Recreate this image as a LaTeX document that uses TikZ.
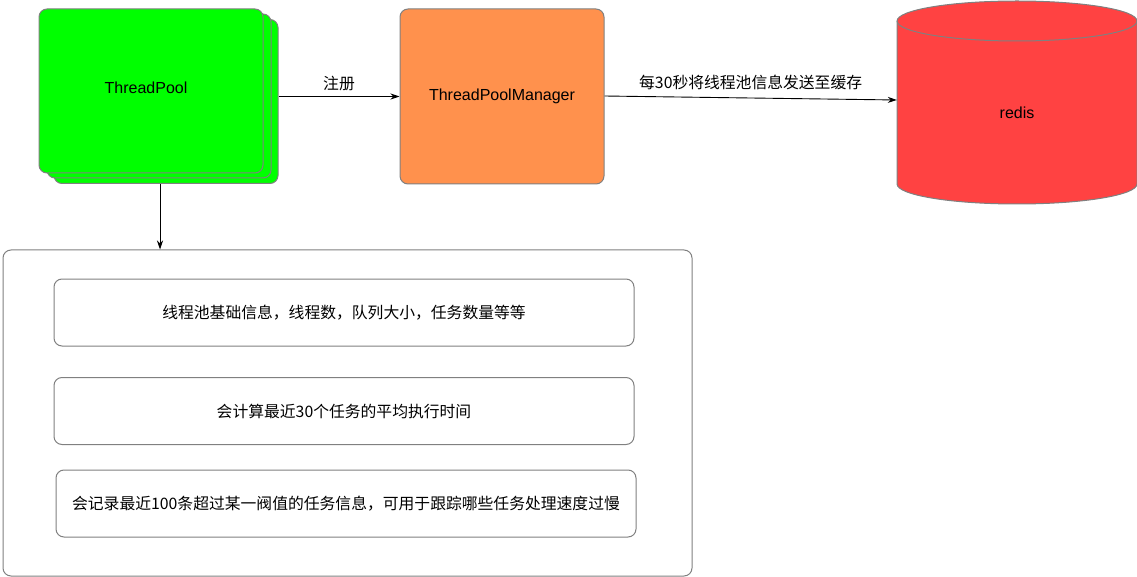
\documentclass[tikz,border=0pt]{standalone}
\usepackage{fontspec}
\setmainfont{Liberation Sans}
\newfontfamily\cjk{Noto Sans CJK SC}
\usetikzlibrary{positioning, arrows.meta}

\definecolor{poolgreen}{RGB}{0,255,0}
\definecolor{mgrorange}{RGB}{255,145,77}
\definecolor{redisred}{RGB}{255,66,66}
\definecolor{edgegray}{RGB}{128,128,128}

\begin{document}
\begin{tikzpicture}[x=1pt, y=1pt,
        box/.style={draw=edgegray, line width=1pt, rounded corners=8pt, inner sep=0pt},
        poolbox/.style={box, fill=poolgreen, minimum width=224pt, minimum height=164pt},
        infobox/.style={box, minimum width=580pt, minimum height=67pt, font=\cjk\fontsize{15.8}{19}\selectfont},
        arr/.style={line width=0.9pt, -{Stealth[length=9pt, width=6pt]}},
        lbl/.style={font=\cjk\fontsize{15.8}{19}\selectfont}]
            \useasboundingbox (0,0) rectangle (1137,-577);

            \node[poolbox] (pool3) at (166,-101.5) {};
            \node[poolbox] (pool2) at (159,-96) {};
            \node[poolbox] (pool) at (151,-91) {};
            \node[font=\fontsize{16}{19}\selectfont] (poolname) at (146,-88) {ThreadPool};

            \node[box, fill=mgrorange, minimum width=204pt, minimum height=175pt,
                font=\fontsize{16}{19}\selectfont] (manager) at (502,-96.5) {ThreadPoolManager};

            \filldraw[fill=redisred, draw=edgegray, line width=1pt] (897,-21) -- (897,-184)
                arc[start angle=180, end angle=360, x radius=120, y radius=20] -- (1137,-21)
                arc[start angle=0, end angle=180, x radius=120, y radius=20] -- cycle;
            \draw[edgegray, line width=1pt] (897,-21) arc[start angle=180, end angle=360, x radius=120, y radius=20];
            \node[minimum width=240pt, minimum height=183pt, inner sep=0pt,
                font=\fontsize{16}{19}\selectfont] (redis) at (1017,-112.5) {redis};

            \draw[arr] (pool3.east |- manager.west) -- (manager.west) node[midway, above=2pt, lbl] {注册};
            \draw[arr] ([yshift=0.5]manager.east) -- ([yshift=12.5]redis.west)
                node[midway, above=4pt, lbl] {每30秒将线程池信息发送至缓存};

            \node[box, minimum width=689pt, minimum height=326pt] (stats) at (347.5,-413) {};
            \draw[arr] ([xshift=-6]pool3.south) -- ([xshift=-6]pool3.south |- stats.north);

            \node[infobox] (info1) at (344,-312.5) {线程池基础信息，线程数，队列大小，任务数量等等};
            \node[infobox] (info2) at (344,-411) {会计算最近30个任务的平均执行时间};
            \node[infobox] (info3) at (346,-503.5) {会记录最近100条超过某一阀值的任务信息，可用于跟踪哪些任务处理速度过慢};
        \end{tikzpicture}
\end{document}
